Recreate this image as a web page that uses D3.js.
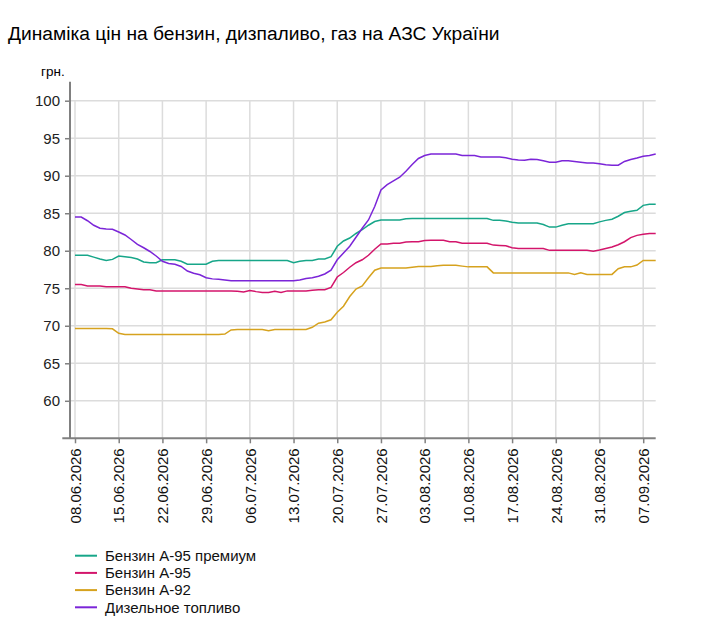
<!DOCTYPE html>
<html>
<head>
<meta charset="utf-8">
<script src="https://cdn.jsdelivr.net/npm/d3@7"></script>
<style>
  body { margin: 0; background: #fff; }
  svg { font-family: "Liberation Sans", Arial, sans-serif; }
</style>
</head>
<body>
<svg id="chart" width="713" height="633"></svg>
<script>
// Дані: ціни по днях з 08.06.2026 по 09.09.2026
const startDay = new Date(2026, 5, 8);
const endDay = new Date(2026, 8, 10);
const days = d3.timeDay.range(startDay, endDay);

const tickLabels = ["08.06.2026", "15.06.2026", "22.06.2026", "29.06.2026", "06.07.2026",
  "13.07.2026", "20.07.2026", "27.07.2026", "03.08.2026", "10.08.2026", "17.08.2026",
  "24.08.2026", "31.08.2026", "07.09.2026"];

const yTicks = [60, 65, 70, 75, 80, 85, 90, 95, 100];

const seriesNames = ["Бензин А-95 премиум", "Бензин А-95", "Бензин А-92", "Дизельное топливо"];
const seriesColors = ["#17a689", "#d3156b", "#d6a21e", "#7b25d8"];

const premium95 = [
  79.4, 79.4, 79.4, 79.15, 78.9, 78.7, 78.85, 79.3, 79.2, 79.1,
  78.9, 78.5, 78.4, 78.4, 78.8, 78.8, 78.8, 78.6, 78.2, 78.2,
  78.2, 78.2, 78.6, 78.7, 78.7, 78.7, 78.7, 78.7, 78.7, 78.7,
  78.7, 78.7, 78.7, 78.7, 78.7, 78.4, 78.6, 78.7, 78.7, 78.9,
  78.9, 79.2, 80.6, 81.3, 81.7, 82.3, 82.8, 83.4, 83.9, 84.1,
  84.1, 84.1, 84.1, 84.25, 84.3, 84.3, 84.3, 84.3, 84.3, 84.3,
  84.3, 84.3, 84.3, 84.3, 84.3, 84.3, 84.3, 84.05, 84.05, 83.95,
  83.8, 83.7, 83.7, 83.7, 83.7, 83.5, 83.15, 83.15, 83.4, 83.6,
  83.6, 83.6, 83.6, 83.6, 83.85, 84.05, 84.2, 84.6, 85.1, 85.25,
  85.4, 86.05, 86.2, 86.2
];

const a95 = [
  75.5, 75.5, 75.3, 75.3, 75.3, 75.2, 75.2, 75.2, 75.2, 75.0,
  74.9, 74.8, 74.8, 74.65, 74.65, 74.65, 74.65, 74.65, 74.65, 74.65,
  74.65, 74.65, 74.65, 74.65, 74.65, 74.65, 74.6, 74.5, 74.7, 74.55,
  74.45, 74.45, 74.6, 74.45, 74.65, 74.65, 74.65, 74.65, 74.75, 74.8,
  74.8, 75.1, 76.5, 77.1, 77.8, 78.4, 78.8, 79.4, 80.2, 80.9,
  80.9, 81.0, 81.0, 81.15, 81.2, 81.2, 81.35, 81.4, 81.4, 81.4,
  81.2, 81.2, 81.0, 81.0, 81.0, 81.0, 81.0, 80.75, 80.7, 80.65,
  80.4, 80.3, 80.3, 80.3, 80.3, 80.3, 80.05, 80.05, 80.05, 80.05,
  80.05, 80.05, 80.05, 79.95, 80.1, 80.3, 80.5, 80.8, 81.2, 81.75,
  82.05, 82.2, 82.3, 82.3
];

const a92 = [
  69.65, 69.65, 69.65, 69.65, 69.65, 69.65, 69.6, 69.0, 68.85, 68.85,
  68.85, 68.85, 68.85, 68.85, 68.85, 68.85, 68.85, 68.85, 68.85, 68.85,
  68.85, 68.85, 68.85, 68.85, 68.9, 69.45, 69.5, 69.5, 69.5, 69.5,
  69.5, 69.35, 69.5, 69.5, 69.5, 69.5, 69.5, 69.5, 69.8, 70.35,
  70.5, 70.8, 71.8, 72.6, 73.9, 74.9, 75.3, 76.4, 77.4, 77.7,
  77.7, 77.7, 77.7, 77.7, 77.8, 77.9, 77.9, 77.9, 78.0, 78.05,
  78.05, 78.05, 77.95, 77.85, 77.85, 77.85, 77.85, 77.05, 77.05, 77.05,
  77.05, 77.05, 77.05, 77.05, 77.05, 77.05, 77.05, 77.05, 77.05, 77.05,
  76.85, 77.05, 76.85, 76.85, 76.85, 76.85, 76.85, 77.6, 77.85, 77.85,
  78.1, 78.7, 78.7, 78.7
];

const diesel = [
  84.5, 84.5, 84.0, 83.4, 83.0, 82.9, 82.85, 82.5, 82.1, 81.5,
  80.85, 80.4, 79.9, 79.3, 78.6, 78.3, 78.2, 77.9, 77.3, 77.0,
  76.8, 76.4, 76.25, 76.2, 76.1, 76.0, 76.0, 76.0, 76.0, 76.0,
  76.0, 76.0, 76.0, 76.0, 76.0, 76.0, 76.1, 76.3, 76.4, 76.6,
  76.9, 77.4, 78.8, 79.7, 80.6, 81.8, 83.0, 84.1, 85.9, 88.1,
  88.8, 89.3, 89.8, 90.6, 91.5, 92.3, 92.7, 92.9, 92.9, 92.9,
  92.9, 92.9, 92.7, 92.7, 92.7, 92.5, 92.5, 92.5, 92.5, 92.4,
  92.2, 92.1, 92.05, 92.2, 92.15, 92.0, 91.8, 91.8, 92.0, 92.0,
  91.9, 91.8, 91.7, 91.7, 91.6, 91.45, 91.4, 91.4, 91.9, 92.15,
  92.35, 92.6, 92.7, 92.9
];

const seriesValues = [premium95, a95, a92, diesel];

const svg = d3.select("#chart");
const parseDate = d3.timeParse("%d.%m.%Y");

// Розміри області графіка
const plotLeft = 70, plotRight = 655.7, plotTop = 100.7, plotBottom = 438.3;

const x = d3.scaleTime()
    .domain([startDay, days[days.length - 1]])
    .range([75, plotRight]);

const y = d3.scaleLinear()
    .domain([55, 100])
    .range([plotBottom, plotTop]);

// Заголовок
svg.append("text")
    .attr("x", 8)
    .attr("y", 40)
    .style("font-size", "19.2px")
    .attr("fill", "#000")
    .text("Динаміка цін на бензин, дизпаливо, газ на АЗС України");

svg.append("text")
    .attr("x", 41)
    .attr("y", 76)
    .style("font-size", "13.5px")
    .text("грн.");

// Сітка
const tickDates = tickLabels.map(parseDate);

svg.append("g").selectAll("line")
    .data(yTicks)
    .enter().append("line")
    .attr("x1", plotLeft)
    .attr("x2", plotRight)
    .attr("y1", d => y(d))
    .attr("y2", d => y(d))
    .attr("stroke", "#dcdcdc")
    .attr("stroke-width", 1.5);

svg.append("g").selectAll("line")
    .data(tickDates)
    .enter().append("line")
    .attr("x1", d => x(d))
    .attr("x2", d => x(d))
    .attr("y1", plotTop)
    .attr("y2", plotBottom)
    .attr("stroke", "#dcdcdc")
    .attr("stroke-width", 1.5);

// Осі
const yAxis = svg.append("g")
    .attr("transform", `translate(${plotLeft},0)`)
    .call(d3.axisLeft(y).tickValues(yTicks).tickSize(5).tickPadding(5));
yAxis.select(".domain").remove();
yAxis.selectAll("line").attr("stroke", "#808080").attr("stroke-width", 1.5);
yAxis.selectAll("text")
    .style("font-size", "15px")
    .style("font-family", "Liberation Sans, Arial, sans-serif")
    .attr("fill", "#222");

const xAxis = svg.append("g")
    .attr("transform", `translate(0,${plotBottom})`)
    .call(d3.axisBottom(x).tickValues(tickDates).tickSize(5).tickFormat(d3.timeFormat("%d.%m.%Y")));
xAxis.select(".domain").remove();
xAxis.selectAll("line").attr("stroke", "#808080").attr("stroke-width", 1.5);
xAxis.selectAll("text")
    .attr("transform", "rotate(-90)")
    .attr("x", -10)
    .attr("y", 0)
    .attr("dy", ".35em")
    .style("text-anchor", "end")
    .style("font-size", "15px")
    .style("font-family", "Liberation Sans, Arial, sans-serif")
    .attr("fill", "#111");

svg.append("line")
    .attr("x1", plotLeft).attr("x2", plotLeft)
    .attr("y1", 81.7).attr("y2", plotBottom)
    .attr("stroke", "#808080").attr("stroke-width", 2);

svg.append("line")
    .attr("x1", 62.3).attr("x2", plotRight)
    .attr("y1", plotBottom).attr("y2", plotBottom)
    .attr("stroke", "#808080").attr("stroke-width", 2);

// Лінії цін
const line = d3.line()
    .x((d, i) => x(days[i]))
    .y(d => y(d));

svg.append("g").selectAll("path")
    .data(seriesValues)
    .enter().append("path")
    .attr("d", line)
    .attr("fill", "none")
    .attr("stroke", (d, i) => seriesColors[i])
    .attr("stroke-width", 1.5);

// Легенда
const legend = svg.selectAll(".legend")
    .data(seriesNames)
    .enter().append("g")
    .attr("class", "legend")
    .attr("transform", (d, i) => `translate(0,${555.7 + i * 17.2})`);

legend.append("line")
    .attr("x1", 75)
    .attr("x2", 97)
    .attr("stroke", (d, i) => seriesColors[i])
    .attr("stroke-width", 2);

legend.append("text")
    .attr("x", 105)
    .attr("dy", ".35em")
    .style("font-size", "15px")
    .attr("fill", "#111")
    .text(d => d);
</script>
</body>
</html>
